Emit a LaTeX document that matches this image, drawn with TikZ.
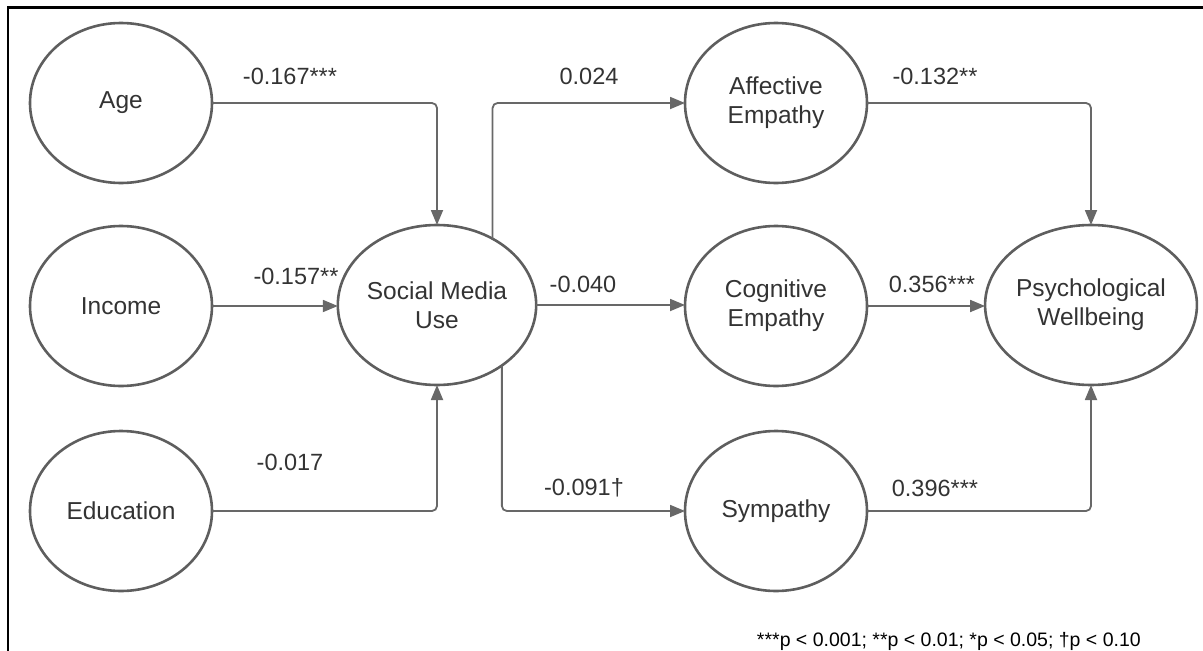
\documentclass[tikz,border=0pt]{standalone}
\usepackage{fontspec}
\setmainfont{Liberation Sans}
\usetikzlibrary{arrows.meta,shapes.geometric}
\definecolor{ellgray}{HTML}{5E5E5E}
\definecolor{arrgray}{HTML}{686868}
\definecolor{txt}{HTML}{333333}
\tikzset{
  var/.style={ellipse, draw=ellgray, line width=2.6pt, minimum width=182pt, minimum height=160pt, inner sep=0pt, outer sep=0pt, align=center, text=txt, font=\fontsize{24.5}{29}\selectfont},
  conn/.style={draw=arrgray, line width=1.8pt, rounded corners=5pt, -{Triangle[length=15pt,width=12pt]}},
  lab/.style={anchor=base, text=txt, font=\fontsize{23.5}{28}\selectfont, inner sep=0pt},
}
\begin{document}
\begin{tikzpicture}[x=1pt,y=-1pt]
\useasboundingbox (0,0) rectangle (1203,651);
\draw[line width=2.6pt, black] (8,652) -- (8,7.5) -- (1204,7.5);
\node[var] (age) at (121,103) {Age};
\node[var] (inc) at (121,306) {Income};
\node[var] (edu) at (121,511) {Education};
\node[var] (smu) at (437,305) {Social Media\\Use};
\node[var] (aff) at (776,103) {Affective\\Empathy};
\node[var] (cog) at (776,306) {Cognitive\\Empathy};
\node[var] (sym) at (776,511) {Sympathy};
\node[var] (pw) at (1091,305) {Psychological\\Wellbeing};
\draw[conn] (age.east) -| (smu.north);
\draw[conn] (inc.east) -- (inc.east -| smu.west);
\draw[conn] (edu.east) -| (smu.south);
\draw[conn] (smu.50.5) |- (aff.west);
\draw[conn] (smu.east) -- (smu.east -| cog.west);
\draw[conn] (smu.-43) |- (sym.west);
\draw[conn] (aff.east) -| (pw.north);
\draw[conn] (cog.east) -- (cog.east -| pw.west);
\draw[conn] (sym.east) -| (pw.south);
\node[lab] (l1) at (290,84) {-0.167***};
\node[lab] (l2) at (296,284) {-0.157**};
\node[lab] (l3) at (290,470) {-0.017};
\node[lab] (l4) at (589,84) {0.024};
\node[lab] (l5) at (583,292) {-0.040};
\node[lab] (l6) at (584,495) {-0.091†};
\node[lab] (l7) at (935,84) {-0.132**};
\node[lab] (l8) at (932,292) {0.356***};
\node[lab] (l9) at (935,496) {0.396***};
\node[anchor=base east, text=black, inner sep=0pt, font=\fontsize{19.5}{23}\selectfont] (fn) at (1141,646) {***p < 0.001; **p < 0.01; *p < 0.05; †p < 0.10};
\end{tikzpicture}
\end{document}
